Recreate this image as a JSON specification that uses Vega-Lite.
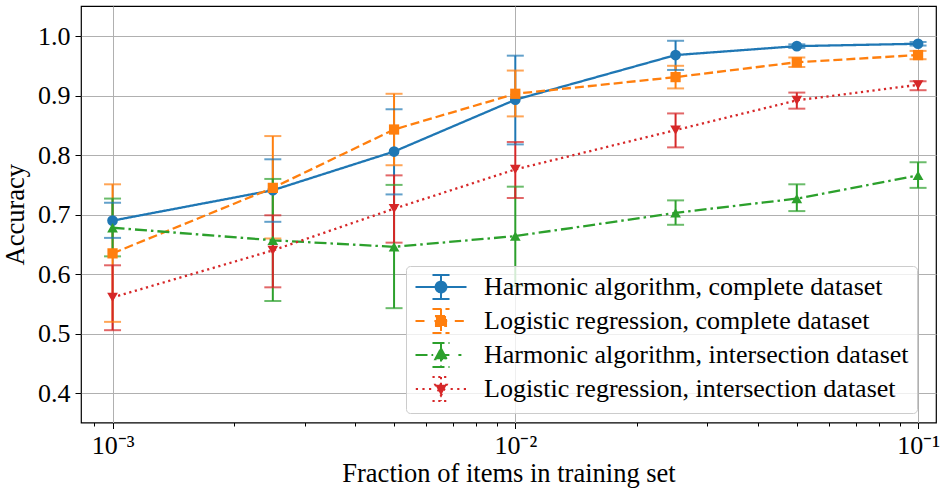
{
  "$schema": "https://vega.github.io/schema/vega-lite/v6.json",
  "autosize": {"type": "none"},
  "padding": {"left": 81, "top": 6, "right": 6, "bottom": 67.5},
  "width": 855,
  "height": 416.5,
  "background": "white",
  "data": {
    "values": [
      {"series": "Harmonic algorithm, complete dataset", "frac": 0.001, "acc": 0.690, "lo": 0.661, "hi": 0.720},
      {"series": "Harmonic algorithm, complete dataset", "frac": 0.0025, "acc": 0.741, "lo": 0.688, "hi": 0.793},
      {"series": "Harmonic algorithm, complete dataset", "frac": 0.005, "acc": 0.806, "lo": 0.734, "hi": 0.877},
      {"series": "Harmonic algorithm, complete dataset", "frac": 0.01, "acc": 0.893, "lo": 0.818, "hi": 0.967},
      {"series": "Harmonic algorithm, complete dataset", "frac": 0.025, "acc": 0.968, "lo": 0.943, "hi": 0.992},
      {"series": "Harmonic algorithm, complete dataset", "frac": 0.05, "acc": 0.983, "lo": 0.980, "hi": 0.986},
      {"series": "Harmonic algorithm, complete dataset", "frac": 0.1, "acc": 0.987, "lo": 0.984, "hi": 0.990},
      {"series": "Logistic regression, complete dataset", "frac": 0.001, "acc": 0.635, "lo": 0.520, "hi": 0.751},
      {"series": "Logistic regression, complete dataset", "frac": 0.0025, "acc": 0.745, "lo": 0.660, "hi": 0.832},
      {"series": "Logistic regression, complete dataset", "frac": 0.005, "acc": 0.843, "lo": 0.783, "hi": 0.903},
      {"series": "Logistic regression, complete dataset", "frac": 0.01, "acc": 0.903, "lo": 0.865, "hi": 0.942},
      {"series": "Logistic regression, complete dataset", "frac": 0.025, "acc": 0.931, "lo": 0.912, "hi": 0.950},
      {"series": "Logistic regression, complete dataset", "frac": 0.05, "acc": 0.956, "lo": 0.948, "hi": 0.964},
      {"series": "Logistic regression, complete dataset", "frac": 0.1, "acc": 0.968, "lo": 0.961, "hi": 0.975},
      {"series": "Harmonic algorithm, intersection dataset", "frac": 0.001, "acc": 0.678, "lo": 0.630, "hi": 0.727},
      {"series": "Harmonic algorithm, intersection dataset", "frac": 0.0025, "acc": 0.657, "lo": 0.555, "hi": 0.760},
      {"series": "Harmonic algorithm, intersection dataset", "frac": 0.005, "acc": 0.646, "lo": 0.543, "hi": 0.750},
      {"series": "Harmonic algorithm, intersection dataset", "frac": 0.01, "acc": 0.664, "lo": 0.580, "hi": 0.747},
      {"series": "Harmonic algorithm, intersection dataset", "frac": 0.025, "acc": 0.703, "lo": 0.683, "hi": 0.724},
      {"series": "Harmonic algorithm, intersection dataset", "frac": 0.05, "acc": 0.727, "lo": 0.706, "hi": 0.751},
      {"series": "Harmonic algorithm, intersection dataset", "frac": 0.1, "acc": 0.766, "lo": 0.745, "hi": 0.788},
      {"series": "Logistic regression, intersection dataset", "frac": 0.001, "acc": 0.561, "lo": 0.506, "hi": 0.615},
      {"series": "Logistic regression, intersection dataset", "frac": 0.0025, "acc": 0.640, "lo": 0.578, "hi": 0.699},
      {"series": "Logistic regression, intersection dataset", "frac": 0.005, "acc": 0.710, "lo": 0.653, "hi": 0.766},
      {"series": "Logistic regression, intersection dataset", "frac": 0.01, "acc": 0.776, "lo": 0.728, "hi": 0.822},
      {"series": "Logistic regression, intersection dataset", "frac": 0.025, "acc": 0.842, "lo": 0.813, "hi": 0.870},
      {"series": "Logistic regression, intersection dataset", "frac": 0.05, "acc": 0.892, "lo": 0.878, "hi": 0.905},
      {"series": "Logistic regression, intersection dataset", "frac": 0.1, "acc": 0.918, "lo": 0.909, "hi": 0.924}
    ]
  },
  "encoding": {
    "x": {
      "field": "frac", "type": "quantitative",
      "scale": {"type": "log", "domain": [0.000835, 0.1108], "nice": false},
      "axis": {
        "title": "Fraction of items in training set",
        "values": [0.0009, 0.001, 0.002, 0.003, 0.004, 0.005, 0.006, 0.007, 0.008, 0.009, 0.01, 0.02, 0.03, 0.04, 0.05, 0.06, 0.07, 0.08, 0.09, 0.1],
        "labelExpr": "datum.value > 0.00099 && datum.value < 0.00101 ? '10⁻³' : datum.value > 0.0099 && datum.value < 0.0101 ? '10⁻²' : datum.value > 0.099 && datum.value < 0.101 ? '10⁻¹' : ''",
        "tickSize": {"condition": {"test": "abs(log(datum.value)/LN10 - round(log(datum.value)/LN10)) < 0.001", "value": 6}, "value": 3.5},
        "gridOpacity": {"condition": {"test": "abs(log(datum.value)/LN10 - round(log(datum.value)/LN10)) < 0.001", "value": 1}, "value": 0},
        "labelPadding": 4,
        "titlePadding": 2,
        "labelFlush": false,
        "labelOverlap": false
      }
    },
    "color": {
      "field": "series", "type": "nominal",
      "scale": {
        "domain": ["Harmonic algorithm, complete dataset", "Logistic regression, complete dataset", "Harmonic algorithm, intersection dataset", "Logistic regression, intersection dataset"],
        "range": ["#1f77b4", "#ff7f0e", "#2ca02c", "#d62728"]
      },
      "legend": {
        "orient": "none",
        "legendX": 325,
        "legendY": 260,
        "title": null,
        "padding": 8,
        "rowPadding": 2,
        "symbolSize": 576,
        "symbolOffset": 14,
        "labelOffset": 30,
        "labelFont": "Liberation Serif",
        "labelFontSize": 26,
        "labelColor": "black",
        "labelLimit": 0,
        "fillColor": "rgba(255,255,255,0.8)",
        "strokeColor": "#cccccc",
        "cornerRadius": 4,
        "symbolStrokeWidth": 2,
        "encode": {
          "symbols": {
            "update": {
              "shape": {"signal": "datum.value === 'Harmonic algorithm, complete dataset' ? 'M-2.125,0H2.125M0,-1V1M-0.71,-1H0.71M-0.71,1H0.71M0.45,0A0.45,0.45,0,1,1,-0.45,0A0.45,0.45,0,1,1,0.45,0Z' : datum.value === 'Logistic regression, complete dataset' ? 'M-2.125,0H-1.15M-0.55,0H0.55M1.15,0H2.125M0,-1V1M-0.71,-1H0.71M-0.71,1H0.71M-0.42,-0.42H0.42V0.42H-0.42Z' : datum.value === 'Harmonic algorithm, intersection dataset' ? 'M-2.125,0H-0.65M-0.3,0H1.0M1.45,0H1.7M0,-1V1M-0.71,-1H0.71M-0.71,1H0.71M0,-0.55L0.48,0.35L-0.48,0.35Z' : 'M-2.1,0H-1.9M-1.55,0H-1.35M-1.0,0H-0.8M0.8,0H1.0M1.35,0H1.55M1.9,0H2.1M0,-1V1M-0.71,-1H0.71M-0.71,1H0.71M0,0.55L0.48,-0.35L-0.48,-0.35Z'"},
              "fill": {"signal": "scale('color', datum.value)"},
              "stroke": {"signal": "scale('color', datum.value)"},
              "fillOpacity": {"value": 1},
              "strokeOpacity": {"value": 1},
              "opacity": {"value": 1},
              "strokeDash": {"value": [1, 0]},
              "strokeWidth": {"value": 2}
            }
          }
        }
      }
    }
  },
  "layer": [
    {
      "mark": {"type": "rule", "strokeWidth": 2},
      "encoding": {
        "y": {"field": "lo", "type": "quantitative",
          "scale": {"domain": [0.351, 1.0504], "nice": false, "zero": false},
          "axis": {
            "title": "Accuracy",
            "values": [0.4, 0.5, 0.6, 0.7, 0.8, 0.9, 1.0],
            "format": ".1f",
            "tickSize": 6,
            "labelPadding": 5,
            "titlePadding": 8
          }
        },
        "y2": {"field": "hi"}
      }
    },
    {
      "mark": {"type": "tick", "orient": "horizontal", "thickness": 2, "size": 17},
      "encoding": {"y": {"field": "lo", "type": "quantitative"}}
    },
    {
      "mark": {"type": "tick", "orient": "horizontal", "thickness": 2, "size": 17},
      "encoding": {"y": {"field": "hi", "type": "quantitative"}}
    },
    {
      "mark": {"type": "line", "strokeWidth": 2.3, "strokeCap": "butt"},
      "encoding": {
        "y": {"field": "acc", "type": "quantitative"},
        "strokeDash": {
          "field": "series", "type": "nominal",
          "scale": {
            "domain": ["Harmonic algorithm, complete dataset", "Logistic regression, complete dataset", "Harmonic algorithm, intersection dataset", "Logistic regression, intersection dataset"],
            "range": [[1, 0], [9, 4], [12, 4, 2.5, 4], [2.2, 3.6]]
          },
          "legend": null
        }
      }
    },
    {
      "transform": [{"filter": "datum.series === 'Harmonic algorithm, complete dataset'"}],
      "mark": {"type": "point", "filled": true, "opacity": 1, "size": 115, "shape": "circle"},
      "encoding": {"y": {"field": "acc", "type": "quantitative"}}
    },
    {
      "transform": [{"filter": "datum.series === 'Logistic regression, complete dataset'"}],
      "mark": {"type": "point", "filled": true, "opacity": 1, "size": 105, "shape": "square"},
      "encoding": {"y": {"field": "acc", "type": "quantitative"}}
    },
    {
      "transform": [{"filter": "datum.series === 'Harmonic algorithm, intersection dataset'"}],
      "mark": {"type": "point", "filled": true, "opacity": 1, "size": 115, "shape": "triangle-up"},
      "encoding": {"y": {"field": "acc", "type": "quantitative"}}
    },
    {
      "transform": [{"filter": "datum.series === 'Logistic regression, intersection dataset'"}],
      "mark": {"type": "point", "filled": true, "opacity": 1, "size": 115, "shape": "triangle-down"},
      "encoding": {"y": {"field": "acc", "type": "quantitative"}}
    }
  ],
  "config": {
    "font": "Liberation Serif",
    "view": {"stroke": "black", "strokeWidth": 1.2},
    "axis": {
      "labelFont": "Liberation Serif",
      "labelFontSize": 26,
      "labelColor": "black",
      "titleFont": "Liberation Serif",
      "titleFontSize": 26.5,
      "titleFontWeight": "normal",
      "titleColor": "black",
      "tickColor": "black",
      "tickWidth": 1,
      "domain": false,
      "gridColor": "#b0b0b0",
      "gridWidth": 1
    }
  }
}
